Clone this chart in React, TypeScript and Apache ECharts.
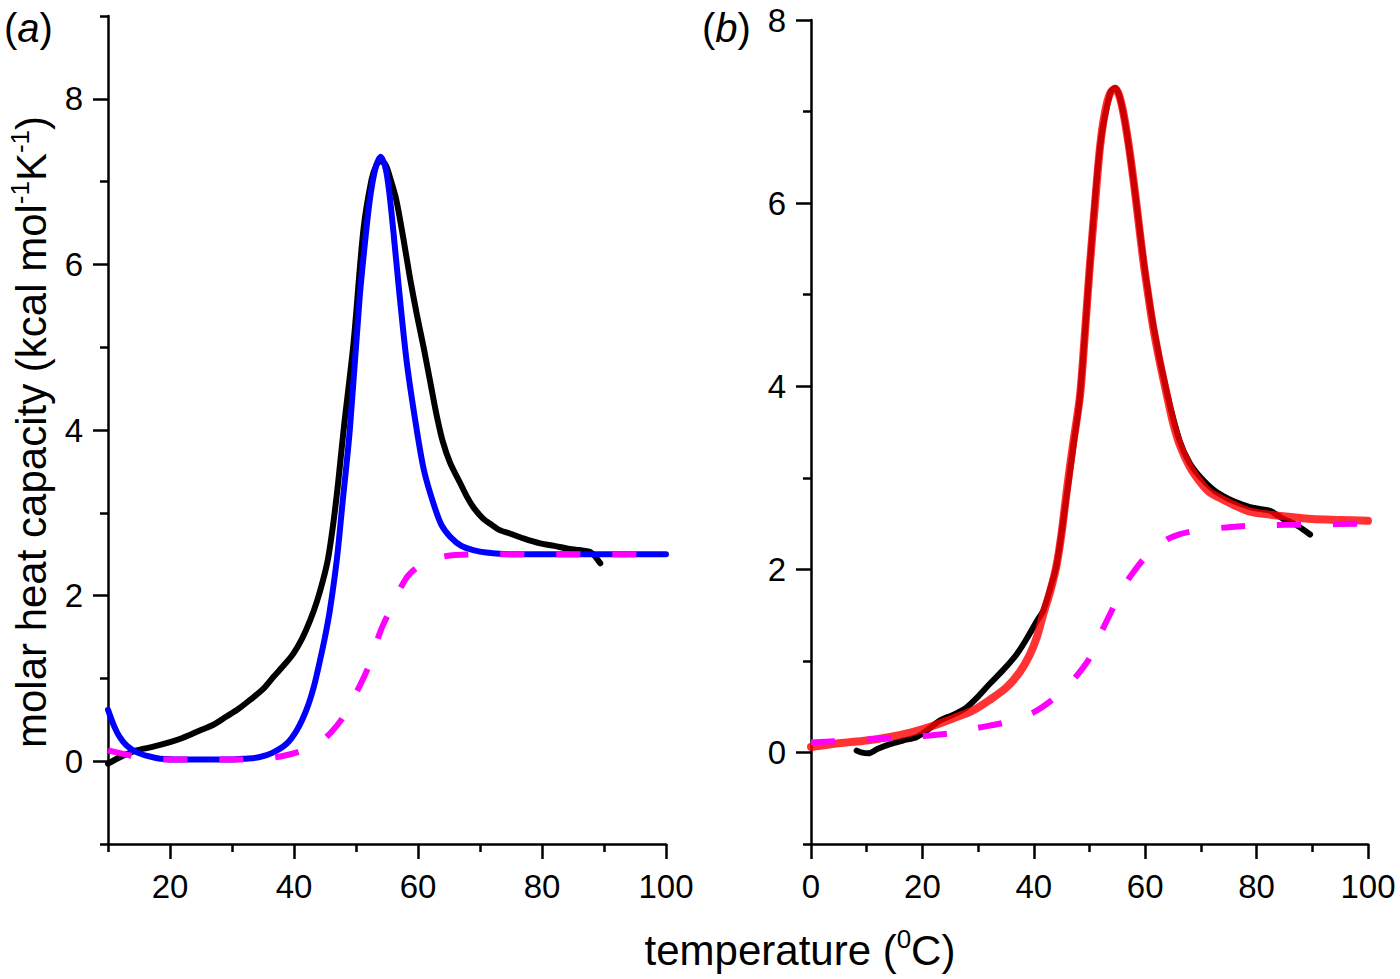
import React, { useEffect, useRef } from "react";
import * as echarts from "echarts";

// ---------- data ----------
// panel (a): experimental trace
const aExperimental: [number, number][] = [
  [10, -0.03], [12, 0.05], [14.6, 0.13], [17, 0.17], [20, 0.23], [22, 0.28],
  [24.8, 0.37], [27, 0.44], [29.1, 0.54], [31, 0.63], [32.9, 0.74], [35, 0.87],
  [36.7, 1.02], [38.5, 1.17], [39.9, 1.3], [41.3, 1.48], [42.6, 1.7], [43.7, 1.93],
  [44.7, 2.19], [45.5, 2.45], [46.3, 2.85], [47.1, 3.35], [48, 4.0], [49.6, 5.05],
  [51.2, 6.42], [52.5, 7.02], [53.3, 7.2], [54.0, 7.25], [54.8, 7.2], [55.6, 7.02],
  [56.5, 6.78], [57.6, 6.33], [58.7, 5.84], [59.8, 5.4], [60.9, 5.0], [62, 4.57],
  [63, 4.18], [64, 3.86], [65.2, 3.6], [66.8, 3.36], [68, 3.18], [69, 3.06],
  [70.5, 2.93], [71.6, 2.87], [73.2, 2.79], [74.8, 2.75], [77, 2.69], [79.7, 2.63],
  [82, 2.6], [84, 2.57], [86, 2.55], [87.7, 2.53], [88.6, 2.47], [89.4, 2.39],
];
// panel (a): two-state fit (blue)
const aFit: [number, number][] = [
  [10, 0.62], [11, 0.42], [11.9, 0.29], [13, 0.19], [14.6, 0.11], [16.5, 0.06],
  [18.4, 0.03], [22, 0.02], [26, 0.02], [30, 0.02], [32, 0.03], [34.5, 0.05],
  [36.5, 0.1], [38.8, 0.21], [40.5, 0.38], [42, 0.62], [43.2, 0.9], [44.2, 1.22],
  [45, 1.5], [45.8, 1.83], [46.9, 2.43], [47.8, 3.1], [49, 4.0], [50.6, 5.61],
  [51.5, 6.3], [52.3, 6.82], [53.2, 7.18], [54, 7.3], [54.8, 7.15], [55.4, 6.85],
  [56, 6.42], [57, 5.65], [58.2, 4.81], [59.8, 4.0], [61, 3.5], [62.5, 3.11],
  [63.8, 2.85], [65.2, 2.71], [67, 2.6], [68.9, 2.55], [71, 2.52], [75, 2.5],
  [80, 2.5], [90, 2.5], [100, 2.5],
];
// panel (a): baseline (magenta dashed)
const aBaseline: [number, number][] = [
  [10, 0.13], [15, 0.05], [20, 0.02], [25, 0.02], [30, 0.02], [35, 0.03],
  [38, 0.06], [41, 0.12], [44, 0.22], [46, 0.35], [48, 0.54], [50, 0.82],
  [52, 1.14], [54, 1.58], [56, 1.9], [58, 2.2], [60, 2.35], [62, 2.43],
  [64, 2.47], [66, 2.49], [70, 2.5], [80, 2.5], [90, 2.5], [100, 2.5],
];
// panel (b): experimental trace
const bExperimental: [number, number][] = [
  [8.2, 0.02], [9, 0.0], [10.3, -0.01], [12, 0.04], [14.2, 0.09], [16.5, 0.13],
  [19, 0.17], [21, 0.25], [23.2, 0.35], [25.5, 0.41], [27.9, 0.49], [30, 0.61],
  [32.1, 0.75], [34.5, 0.9], [36.9, 1.07], [38.8, 1.25], [40.5, 1.43], [41.7, 1.55],
  [43, 1.8], [44.1, 2.05], [45.6, 2.67], [47, 3.3], [48.3, 3.9], [50.1, 5.35],
  [51.9, 6.62], [53.7, 7.2], [54.6, 7.26], [56.1, 6.98], [57.9, 6.25], [59.7, 5.38],
  [61.5, 4.65], [63.9, 3.93], [66.2, 3.4], [68, 3.16], [70, 3.0], [72.2, 2.87],
  [74, 2.8], [76, 2.74], [78.8, 2.68], [80.5, 2.66], [82.4, 2.64], [83.5, 2.6],
  [84.8, 2.55], [86, 2.52], [87.5, 2.47], [89.6, 2.38],
];
// panel (b): fit (red)
const bFit: [number, number][] = [
  [0, 0.06], [5, 0.1], [10, 0.13], [14.2, 0.17], [18, 0.22], [21.4, 0.28],
  [25, 0.36], [29.1, 0.46], [32, 0.57], [35.1, 0.71], [37.5, 0.88], [39.3, 1.07],
  [40.6, 1.27], [41.7, 1.51], [43, 1.77], [44.1, 2.05], [45, 2.4], [45.9, 2.85],
  [47, 3.35], [48.3, 3.9], [49.2, 4.6], [50.1, 5.35], [51, 6.0], [51.9, 6.62],
  [52.8, 7.0], [53.7, 7.2], [54.6, 7.25], [55.3, 7.18], [56.1, 6.98], [57, 6.65],
  [57.9, 6.25], [58.8, 5.8], [59.7, 5.35], [60.6, 4.97], [61.5, 4.62], [62.7, 4.24],
  [63.9, 3.9], [65, 3.6], [66.2, 3.36], [68, 3.12], [69.8, 2.96], [71.6, 2.84],
  [73.4, 2.78], [76, 2.7], [78.8, 2.63], [82, 2.6], [84.8, 2.58], [90, 2.55],
  [95, 2.54], [100, 2.53],
];
// panel (b): baseline (magenta dashed)
const bBaseline: [number, number][] = [
  [0, 0.11], [10, 0.14], [20, 0.18], [25, 0.21], [30, 0.27], [35, 0.33],
  [40, 0.44], [43, 0.56], [46, 0.72], [48, 0.86], [50, 1.03], [52, 1.3],
  [54, 1.55], [56, 1.8], [58, 1.98], [60, 2.13], [62, 2.24], [64, 2.33],
  [66, 2.38], [68, 2.41], [70, 2.43], [75, 2.46], [80, 2.48], [90, 2.49],
  [100, 2.5],
];

// tick values
const aXMajor = [20, 40, 60, 80, 100];
const aXMinor = [10, 30, 50, 70, 90];
const bXMajor = [0, 20, 40, 60, 80, 100];
const bXMinor = [10, 30, 50, 70, 90];
const aYMajor = [0, 2, 4, 6, 8];
const aYMinor = [-1, 1, 3, 5, 7, 9];
const bYMajor = [0, 2, 4, 6, 8];
const bYMinor = [-1, 1, 3, 5, 7];

const FONT = "'Liberation Sans', Arial, Helvetica, sans-serif";
const AXIS_W = 2.5;

function majorAxis(grid: number, min: number, max: number, ticks: number[], isX: boolean) {
  return {
    type: "value",
    gridIndex: grid,
    min,
    max,
    position: isX ? "bottom" : "left",
    axisLine: { show: true, onZero: false, lineStyle: { color: "#000", width: AXIS_W } },
    axisTick: {
      show: true,
      inside: false,
      length: 15,
      customValues: ticks,
      lineStyle: { color: "#000", width: AXIS_W },
    },
    axisLabel: {
      show: true,
      customValues: ticks,
      margin: isX ? 28 : 25,
      color: "#000",
      fontSize: 33,
      lineHeight: 28,
      fontFamily: FONT,
    },
    splitLine: { show: false },
  };
}

function minorAxis(grid: number, min: number, max: number, ticks: number[], isX: boolean) {
  return {
    type: "value",
    gridIndex: grid,
    min,
    max,
    position: isX ? "bottom" : "left",
    axisLine: { show: false, onZero: false },
    axisTick: {
      show: true,
      inside: false,
      length: 8,
      customValues: ticks,
      lineStyle: { color: "#000", width: AXIS_W },
    },
    axisLabel: { show: false, customValues: ticks },
    splitLine: { show: false },
  };
}

function lineSeries(
  data: [number, number][],
  axis: number,
  color: string,
  width: number,
  z: number,
  dashed = false
) {
  return {
    type: "line",
    xAxisIndex: axis,
    yAxisIndex: axis,
    data,
    showSymbol: false,
    symbol: "none",
    smooth: 0.3,
    silent: true,
    clip: true,
    lineStyle: dashed
      ? { color, width, type: [24, 32], cap: "butt" }
      : { color, width, cap: "round", join: "round" },
    z,
  };
}

export default function App() {
  const ref = useRef<HTMLDivElement>(null);

  useEffect(() => {
    if (!ref.current) return;
    const chart = echarts.init(ref.current, undefined, { renderer: "svg" });

    const supStyle = { fontSize: 26, fontFamily: FONT, fill: "#000", verticalAlign: "top", lineHeight: 48 };

    const option: any = {
      animation: false,
      backgroundColor: "#fff",
      grid: [
        { left: 108, right: 734, top: 16, bottom: 135, containLabel: false },
        { left: 811, right: 32, top: 20, bottom: 135, containLabel: false },
      ],
      xAxis: [
        majorAxis(0, 10, 100, aXMajor, true),
        minorAxis(0, 10, 100, aXMinor, true),
        majorAxis(1, 0, 100, bXMajor, true),
        minorAxis(1, 0, 100, bXMinor, true),
      ],
      yAxis: [
        majorAxis(0, -1, 9, aYMajor, false),
        minorAxis(0, -1, 9, aYMinor, false),
        majorAxis(1, -1, 8, bYMajor, false),
        minorAxis(1, -1, 8, bYMinor, false),
      ],
      series: [
        lineSeries(aExperimental, 0, "#000000", 6, 2),
        lineSeries(aFit, 0, "#0000ff", 6, 3),
        lineSeries(aBaseline, 0, "#ff00ff", 6, 4, true),
        lineSeries(bExperimental, 2, "#000000", 6, 2),
        lineSeries(bFit, 2, "rgba(255,0,0,0.8)", 8, 3),
        lineSeries(bBaseline, 2, "#ff00ff", 6, 4, true),
      ],
      graphic: [
        {
          type: "text",
          x: 4,
          y: 28,
          style: {
            text: "({i|a})",
            fontSize: 40,
            fontFamily: FONT,
            fill: "#000",
            verticalAlign: "middle",
            rich: { i: { fontStyle: "italic", fontSize: 40, fontFamily: FONT, fill: "#000" } },
          },
        },
        {
          type: "text",
          x: 702,
          y: 28,
          style: {
            text: "({i|b})",
            fontSize: 40,
            fontFamily: FONT,
            fill: "#000",
            verticalAlign: "middle",
            rich: { i: { fontStyle: "italic", fontSize: 40, fontFamily: FONT, fill: "#000" } },
          },
        },
        {
          type: "text",
          x: 31,
          y: 432,
          rotation: Math.PI / 2,
          style: {
            text: "molar heat capacity (kcal mol{s|-1}K{s|-1})",
            fontSize: 42,
            fontFamily: FONT,
            fill: "#000",
            align: "center",
            verticalAlign: "middle",
            rich: { s: supStyle },
          },
        },
        {
          type: "text",
          x: 800,
          y: 950,
          style: {
            text: "temperature ({s|0}C)",
            fontSize: 42,
            fontFamily: FONT,
            fill: "#000",
            align: "center",
            verticalAlign: "middle",
            rich: { s: supStyle },
          },
        },
      ],
    };

    chart.setOption(option);
    return () => chart.dispose();
  }, []);

  return (
    <div
      ref={ref}
      style={{ position: "fixed", left: 0, top: 0, width: 1400, height: 979, background: "#fff" }}
    />
  );
}
